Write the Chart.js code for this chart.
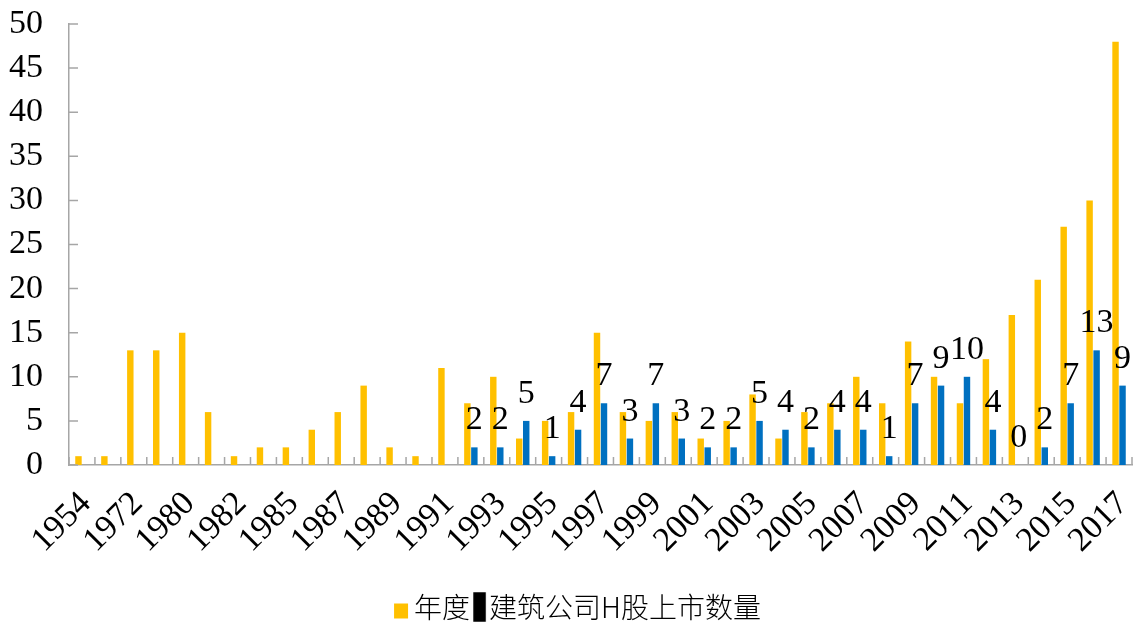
<!DOCTYPE html>
<html>
<head>
<meta charset="utf-8">
<script src="https://cdn.jsdelivr.net/npm/chart.js@4.4.0/dist/chart.umd.min.js"></script>
<style>
  html, body { margin: 0; padding: 0; background: #ffffff; }
  #chart { display: block; }
</style>
</head>
<body>
<canvas id="chart" width="1135" height="628"></canvas>
<script>
// Listing years (every other one is labelled on the axis)
const years = [
  '1954', '1969', '1972', '1976', '1980', '1981', '1982', '1984', '1985', '1986',
  '1987', '1988', '1989', '1990', '1991', '1992', '1993', '1994', '1995', '1996',
  '1997', '1998', '1999', '2000', '2001', '2002', '2003', '2004', '2005', '2006',
  '2007', '2008', '2009', '2010', '2011', '2012', '2013', '2014', '2015', '2016', '2017'
];

// Total H-share listings per year
const totalListings = [
  1, 1, 13, 13, 15, 6, 1, 2, 2, 4,
  6, 9, 2, 1, 11, 7, 10, 3, 5, 6,
  15, 6, 5, 6, 3, 5, 8, 3, 6, 7,
  10, 7, 14, 10, 7, 12, 17, 21, 27, 30, 48
];

// Construction-company H-share listings per year (none recorded before 1992)
const constructionListings = [
  null, null, null, null, null, null, null, null, null, null,
  null, null, null, null, null, 2, 2, 5, 1, 4,
  7, 3, 7, 3, 2, 2, 5, 4, 2, 4,
  4, 1, 7, 9, 10, 4, 0, 2, 7, 13, 9
];

// Value axis tick values
const valueTicks = [0, 5, 10, 15, 20, 25, 30, 35, 40, 45, 50];

const seriesNames = ['年度', '建筑公司H股上市数量'];

const ORANGE = '#FFC000';
const BLUE = '#0070C0';
const AXIS_COLOR = '#A6A6A6';
const SERIF = '"Liberation Serif", "Times New Roman", serif';
const CJK = '"Noto Sans CJK SC", "Noto Sans", sans-serif';

// Small canvases used as legend markers (offset inside their own box)
function makeMark(w, h, color, dx, dy) {
  const c = document.createElement('canvas');
  c.width = Math.ceil(w + 2 * Math.abs(dx) + 2);
  c.height = Math.ceil(h + 2 * Math.abs(dy) + 2);
  const g = c.getContext('2d');
  g.fillStyle = color;
  g.fillRect(c.width / 2 + dx - w / 2, c.height / 2 + dy - h / 2, w, h);
  return c;
}
const legendMarks = [
  makeMark(14, 15, ORANGE, 1.5, 4),
  makeMark(12.5, 29.5, '#000000', 5, 0)
];

// Let the value-axis labels use the space left of the axis box
const labelRoom = {
  id: 'labelRoom',
  afterLayout(chart) {
    chart.scales.y.left = 0;
  }
};

// Short tick marks pointing into the plot area
const inwardTicks = {
  id: 'inwardTicks',
  afterDatasetsDraw(chart) {
    const { ctx, scales: { x, y } } = chart;
    const n = chart.data.labels.length;
    ctx.save();
    ctx.strokeStyle = AXIS_COLOR;
    ctx.lineWidth = 1.5;
    ctx.beginPath();
    for (let i = 0; i <= n; i++) {
      let px;
      if (i === 0) px = x.left;
      else if (i === n) px = x.right;
      else px = (x.getPixelForValue(i - 1) + x.getPixelForValue(i)) / 2;
      ctx.moveTo(px, x.top);
      ctx.lineTo(px, x.top - 8);
    }
    y.ticks.forEach(t => {
      const py = y.getPixelForValue(t.value);
      ctx.moveTo(y.right, py);
      ctx.lineTo(y.right + 9, py);
    });
    ctx.stroke();
    ctx.restore();
  }
};

// Value labels above the construction-company bars
const valueLabels = {
  id: 'valueLabels',
  afterDatasetsDraw(chart) {
    const ds = chart.data.datasets[1];
    const meta = chart.getDatasetMeta(1);
    const ctx = chart.ctx;
    ctx.save();
    ctx.font = '34px ' + SERIF;
    ctx.fillStyle = '#000000';
    ctx.textAlign = 'center';
    ctx.textBaseline = 'alphabetic';
    meta.data.forEach((bar, i) => {
      const v = ds.data[i];
      if (v === null || v === undefined) return;
      ctx.fillText(String(v), bar.x, bar.y - 18);
    });
    ctx.restore();
  }
};

new Chart(document.getElementById('chart'), {
  type: 'bar',
  data: {
    labels: years,
    datasets: [
      {
        label: seriesNames[0],
        data: totalListings,
        backgroundColor: ORANGE,
        categoryPercentage: 0.54,
        barPercentage: 0.92
      },
      {
        label: seriesNames[1],
        data: constructionListings,
        backgroundColor: BLUE,
        categoryPercentage: 0.54,
        barPercentage: 0.92
      }
    ]
  },
  options: {
    responsive: false,
    animation: false,
    devicePixelRatio: 1,
    layout: { padding: { left: 28, right: 3, top: 24, bottom: -3 } },
    plugins: {
      tooltip: { enabled: false },
      legend: {
        position: 'bottom',
        labels: {
          usePointStyle: true,
          pointStyleWidth: 1,
          boxHeight: 28,
          padding: 4,
          color: '#000000',
          font: { family: CJK, size: 28, weight: '300' },
          generateLabels(chart) {
            return chart.data.datasets.map((ds, i) => ({
              text: ds.label,
              pointStyle: legendMarks[i],
              fillStyle: ds.backgroundColor,
              strokeStyle: 'rgba(0,0,0,0)',
              lineWidth: 0,
              hidden: false,
              datasetIndex: i
            }));
          }
        }
      }
    },
    scales: {
      x: {
        grid: { display: false, drawTicks: false },
        border: { display: true, color: AXIS_COLOR, width: 1.5 },
        ticks: {
          autoSkip: false,
          minRotation: 45,
          maxRotation: 45,
          padding: 19,
          labelOffset: 4,
          color: '#000000',
          font: { family: SERIF, size: 34 },
          callback(value, index) {
            return index % 2 === 0 ? this.getLabelForValue(value) : '';
          }
        },
        afterFit(scale) {
          scale.height = 124;
          scale.paddingLeft = 0;
          scale.paddingRight = 0;
        }
      },
      y: {
        min: valueTicks[0],
        max: valueTicks[valueTicks.length - 1],
        grid: { display: false, drawTicks: false },
        border: { display: true, color: AXIS_COLOR, width: 1.5 },
        ticks: {
          stepSize: valueTicks[1] - valueTicks[0],
          padding: 26,
          color: '#000000',
          font: { family: SERIF, size: 34 }
        },
        afterBuildTicks(scale) {
          scale.ticks = valueTicks.map(v => ({ value: v }));
        },
        afterFit(scale) {
          scale.width = 41;
          scale.paddingTop = 0;
          scale.paddingBottom = 0;
        }
      }
    }
  },
  plugins: [labelRoom, inwardTicks, valueLabels]
});
</script>
</body>
</html>
